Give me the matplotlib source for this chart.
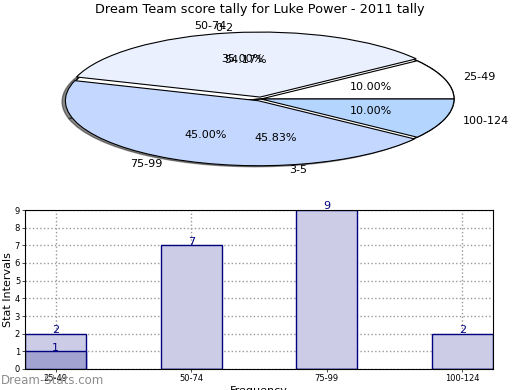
import matplotlib
matplotlib.use("Agg")
import matplotlib.pyplot as plt
import numpy as np

title = "Dream Team score tally for Luke Power - 2011 tally"
categories = ['25-49', '50-74', '75-99', '100-124']
counts = [2, 7, 9, 2]
pie_colors = ['#ffffff', '#eaf0fe', '#c4d7fe', '#b3d5fe']
explode = [0.0, 0.03, 0.03, 0.0]
inner_labels = ['0-2', '3-5']
inner_counts = [13, 11]
overlay_counts = [1, 0, 0, 0]

W, H = 520, 390
fig = plt.figure(figsize=(W / 100, H / 100), dpi=100)

# ---- pie (squashed ellipse) ----
cx, cy, rx, ry = 261, 99, 193, 65
lim = 1.25
axp = fig.add_axes([(cx - lim * rx) / W, (H - cy - lim * ry) / H,
                    2 * lim * rx / W, 2 * lim * ry / H])
axp.pie(inner_counts, labels=inner_labels, autopct='%1.2f%%',
        colors=['#ffffff', '#ffffff'], startangle=0,
        shadow={'ox': -0.022, 'oy': -0.03, 'shade': 0.9},
        wedgeprops=dict(edgecolor='black', linewidth=1),
        textprops=dict(fontsize=8))
axp.pie(counts, labels=categories, autopct='%1.2f%%', colors=pie_colors,
        explode=explode, startangle=0,
        wedgeprops=dict(edgecolor='black', linewidth=0.8),
        textprops=dict(fontsize=8))
axp.set_aspect('auto')
axp.set_xlim(-lim, lim)
axp.set_ylim(-lim, lim)
axp.axis('off')
fig.text(260 / W, 1 - 10 / H, title, ha='center', va='center', fontsize=9.25)

# ---- bar chart ----
axb = fig.add_axes([25 / W, 1 - 369 / H, (493 - 25) / W, (369 - 210) / H])
x = np.arange(len(categories))
width = 0.45
axb.bar(x, counts, width, color='#ccccE6', edgecolor='#000080', linewidth=1, zorder=2)
axb.bar(x, overlay_counts, width, color='#a3a3d1', edgecolor='#000080', linewidth=1, zorder=2)
for xi, v in zip(x, counts):
    axb.text(xi, v + 0.2, str(v), ha='center', va='center', color='#000080', fontsize=8)
for xi, v in zip(x, overlay_counts):
    if v > 0:
        axb.text(xi, v + 0.2, str(v), ha='center', va='center', color='#000080', fontsize=8)
axb.set_xlim(-width / 2, len(categories) - 1 + width / 2)
axb.set_ylim(0, 9)
axb.set_yticks(range(10))
axb.set_xticks(x)
axb.set_xticklabels(categories)
axb.tick_params(labelsize=6, length=2, width=0.5, pad=1.5)
axb.grid(True, linestyle=':', color='#999999', linewidth=1, zorder=0)
axb.set_axisbelow(True)
axb.set_ylabel('Stat Intervals', fontsize=8, labelpad=1)
axb.set_xlabel('Frequency', fontsize=8, labelpad=2)

fig.text(1 / W, 1 - 381 / H, 'Dream-Stats.com', ha='left', va='center',
         fontsize=8.5, color='#8c8c8c')

fig.savefig('out.png', dpi=100)
